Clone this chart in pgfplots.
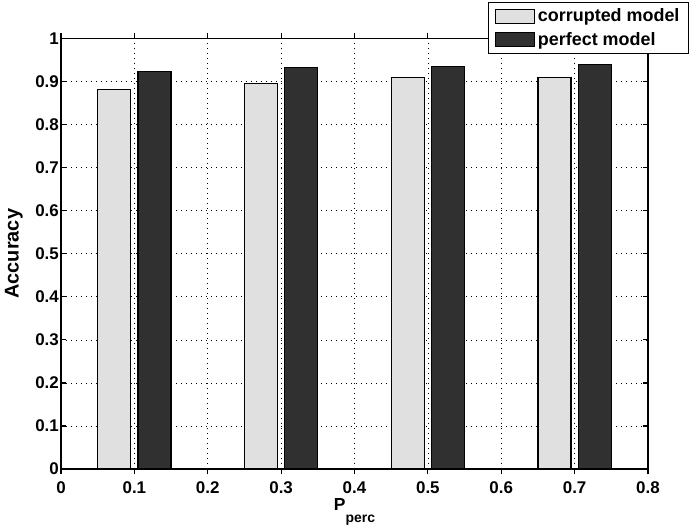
\documentclass[border=0pt]{standalone}
\usepackage{pgfplots}
\pgfplotsset{compat=1.18}
\usepackage{fontspec}
\setmainfont{Liberation Sans}
\definecolor{lightbar}{RGB}{224,224,224}
\definecolor{darkbar}{RGB}{48,48,48}
\pgfplotsset{mylegend/.style={legend image code/.code={\draw[##1, line width=1.2bp] (0bp,-7bp) rectangle (39bp,7bp);}}}
\begin{document}
\begin{tikzpicture}
\path[use as bounding box] (-61bp,-57bp) rectangle (629bp,469bp);
\begin{axis}[
  at={(0,0)}, anchor=south west,
  scale only axis, width=587bp, height=430.5bp,
  xmin=0, xmax=0.8, ymin=0, ymax=1,
  xtick={0,0.1,0.2,0.3,0.4,0.5,0.6,0.7,0.8},
  xticklabels={0,0.1,0.2,0.3,0.4,0.5,0.6,0.7,0.8},
  ytick={0,0.1,0.2,0.3,0.4,0.5,0.6,0.7,0.8,0.9,1},
  yticklabels={0,0.1,0.2,0.3,0.4,0.5,0.6,0.7,0.8,0.9,1},
  tick label style={font=\bfseries\fontsize{17}{17}\selectfont},
  xticklabel style={inner sep=0pt, yshift=-7bp},
  yticklabel style={inner sep=0pt, xshift=-2bp},
  grid=major,
  major grid style={black, line width=0.6bp, dash pattern=on 1bp off 4bp},
  tick align=inside, major tick length=5bp,
  tick style={black, line width=1.2bp},
  axis line style={black, line width=1.8bp},
  ybar, bar width=0.045, bar shift=0pt,
  every axis plot post/.append style={mylegend},
  xlabel={P\raisebox{-12bp}{\fontsize{14}{14}\selectfont perc}},
  xlabel style={at={(rel axis cs:0.5,0)}, anchor=north, yshift=-29bp, inner sep=0pt, font=\bfseries\fontsize{17.5}{17.5}\selectfont},
  ylabel={Accuracy},
  ylabel style={at={(rel axis cs:0,0.5)}, anchor=south, yshift=38bp, inner sep=0pt, font=\bfseries\fontsize{20}{20}\selectfont},
  legend style={at={(1.0698,1.0848)}, anchor=north east, draw=black, line width=1bp,
    font=\bfseries\fontsize{18}{18}\selectfont, inner xsep=6bp, inner ysep=4.5bp, row sep=5bp,
    nodes={inner xsep=3bp, inner ysep=2bp}},
  legend cell align=left,
]
\addplot[fill=lightbar, draw=black, line width=1.2bp]
  coordinates {(0.0725,0.882) (0.2725,0.896) (0.4725,0.909) (0.6725,0.909)};
\addlegendentry{corrupted model}
\addplot[fill=darkbar, draw=black, line width=1.2bp]
  coordinates {(0.1275,0.924) (0.3275,0.933) (0.5275,0.935) (0.7275,0.940)};
\addlegendentry{perfect model}
\end{axis}
\end{tikzpicture}
\end{document}
